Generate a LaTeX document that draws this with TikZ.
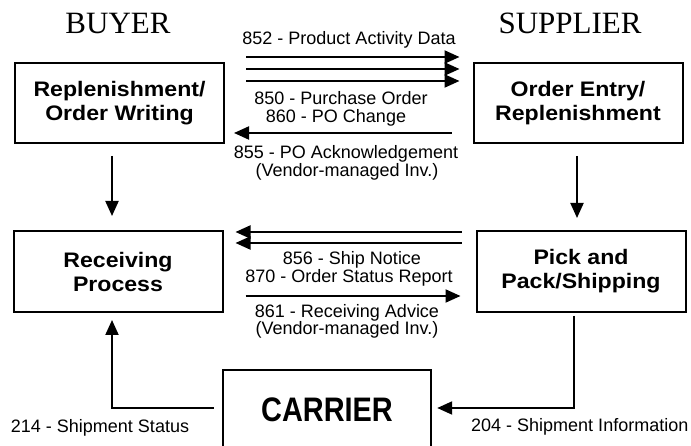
\documentclass[tikz,border=0pt]{standalone}
\usepackage{fontspec}
\usetikzlibrary{arrows.meta}
\newfontfamily\labfont{Liberation Sans}
\newfontfamily\boxfont[FakeStretch=1.1]{Liberation Sans Bold}
\newfontfamily\carfont[FakeStretch=0.85]{Liberation Sans Bold}
\newfontfamily\headfont{Liberation Serif}
\tikzset{
  procbox/.style={draw, line width=2pt, minimum width=209pt, minimum height=80pt,
    align=center, inner sep=0pt, font=\boxfont\fontsize{21}{24}\selectfont},
  lab/.style={inner sep=0pt, font=\labfont\fontsize{18}{20}\selectfont},
  head/.style={inner sep=0pt, font=\headfont\fontsize{31}{34}\selectfont},
  arr/.style={line width=2pt, -{Triangle[length=15pt,width=13pt]}},
}
\begin{document}
\begin{tikzpicture}[x=1pt,y=-1pt]
\useasboundingbox (0,0) rectangle (691,446);
% headers
\node[head] (hbuy) at (118,24) {BUYER};
\node[head] (hsup) at (570,23) {SUPPLIER};
% boxes
\node[procbox] (b1) at (119.5,103) {Replenishment/\\Order Writing};
\node[procbox] (b2) at (578,103) {Order Entry/\\Replenishment};
\node[procbox, minimum height=81pt] (b3) at (118,271.5) {Receiving\\Process};
\node[procbox, minimum height=81pt] (b4) at (581,271.5) {Pick and\\Pack/Shipping};
\node[minimum width=208pt, minimum height=80pt, inner sep=0pt,
  font=\carfont\fontsize{34}{36}\selectfont] (c) at (327,410) {CARRIER};
\draw[line width=2pt] (c.south west) |- (c.north east) -- (c.south east);
% vertical flows
\draw[arr, shorten <=12pt, shorten >=14pt] ([xshift=-7.5pt]b1.south) -- ([xshift=-6pt]b3.north);
\draw[arr, shorten <=12pt, shorten >=12pt] ([xshift=-1pt]b2.south) -- ([xshift=-4pt]b4.north);
% 852 (three right arrows)
\draw[arr, shorten <=21pt, shorten >=13pt] ([yshift=46pt]b1.east) -- ([yshift=46pt]b2.west);
\draw[arr, shorten <=21pt, shorten >=13pt] ([yshift=34pt]b1.east) -- ([yshift=34pt]b2.west);
\draw[arr, shorten <=21pt, shorten >=13pt] ([yshift=22pt]b1.east) -- ([yshift=22pt]b2.west);
% 855 left arrow
\draw[arr, shorten <=21pt, shorten >=9pt] ([yshift=-30pt]b2.west) -- ([yshift=-30pt]b1.east);
% 856/870 left arrows
\draw[arr, shorten <=14pt, shorten >=12pt] ([yshift=39.5pt]b4.west) -- ([yshift=39.5pt]b3.east);
\draw[arr, shorten <=14pt, shorten >=12pt] ([yshift=28.5pt]b4.west) -- ([yshift=28.5pt]b3.east);
% 861 right arrow
\draw[arr, shorten <=22pt, shorten >=15pt] ([yshift=-24.5pt]b3.east) -- ([yshift=-24.5pt]b4.west);
% carrier flows
\draw[arr, shorten <=3pt, shorten >=6pt] ([xshift=-7pt]b4.south) |- ([yshift=2pt]c.east);
\draw[arr, shorten <=9pt, shorten >=7pt] ([yshift=2pt]c.west) -| ([xshift=-6pt]b3.south);
% labels
\node[lab] (l852) at (349,40) {852 - Product Activity Data};
\node[lab] (l850) at (341,98) {850 - Purchase Order};
\node[lab] (l860) at (336,118) {860 - PO Change};
\node[lab] (l855) at (346,154) {855 - PO Acknowledgement};
\node[lab] (l855v) at (347,172) {(Vendor-managed Inv.)};
\node[lab] (l856) at (352,260) {856 - Ship Notice};
\node[lab] (l870) at (349,278) {870 - Order Status Report};
\node[lab] (l861) at (347,313) {861 - Receiving Advice};
\node[lab] (l861v) at (347,330) {(Vendor-managed Inv.)};
\node[lab] (l214) at (100,428) {214 - Shipment Status};
\node[lab, anchor=west] (l204) at (471,427) {204 - Shipment Information};
\end{tikzpicture}
\end{document}
